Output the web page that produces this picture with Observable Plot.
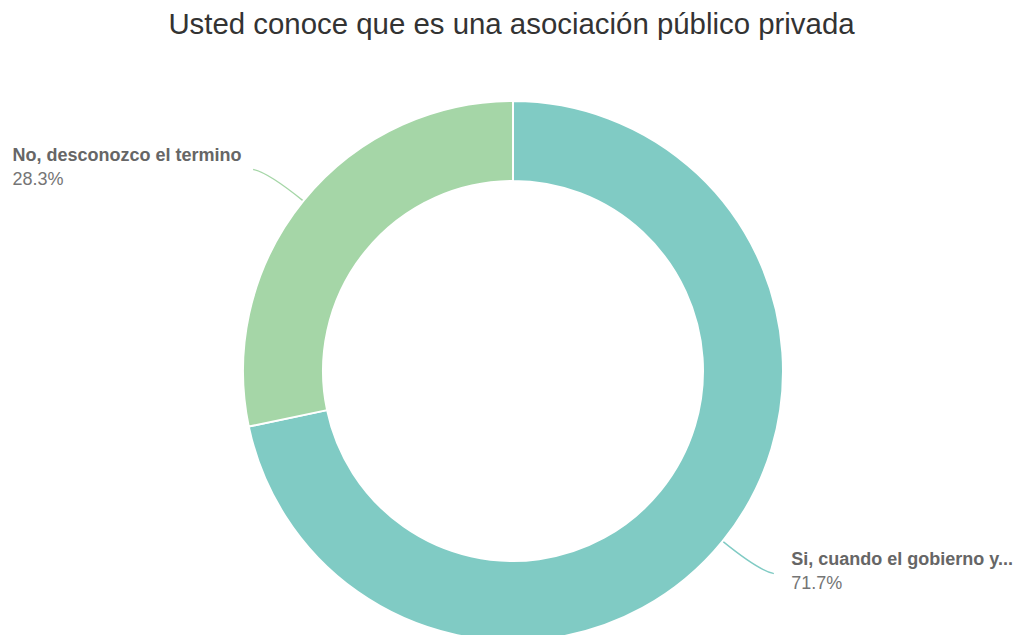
<!DOCTYPE html>
<html><head><meta charset="utf-8">
<script src="https://cdn.jsdelivr.net/npm/d3@7"></script>
<script src="https://cdn.jsdelivr.net/npm/@observablehq/plot@0.6"></script>
<style>
html,body{margin:0;padding:0;background:#fff;overflow:hidden;}
#title{height:48px;padding-top:4px;padding-left:10px;font:29.4px "Liberation Sans",Arial,sans-serif;line-height:40px;color:#333;text-align:center;white-space:nowrap;}
</style></head><body>
<div id="title">Usted conoce que es una asociación público privada</div>
<div id="chart"></div>
<script>
// data
const categories = ["Si, cuando el gobierno y...", "No, desconozco el termino"];
const values = [71.7, 28.3];
const percentLabels = ["71.7%", "28.3%"];
const colors = ["#80CBC4", "#A5D6A7"];

// layout
const W = 1013, H = 583;
const CX = 513, CY = 319, R_OUT = 270, R_IN = 190;
const FONT = '"Liberation Sans", Arial, sans-serif';

const data = categories.map((c, i) => ({category: c, value: values[i], pct: percentLabels[i], color: colors[i]}));
const arcs = d3.pie().sort(null).value(d => d.value).startAngle(0).endAngle(2 * Math.PI)(data);

const polar = (r, a) => [CX + r * Math.sin(a), CY - r * Math.cos(a)];
const leaders = [];
const labels = [];
arcs.forEach(a => {
  const mid = (a.startAngle + a.endAngle) / 2;
  const shift = 1.2 * Math.PI / 180;
  const pts = [polar(R_OUT, mid), polar(R_OUT + 45, mid), polar(R_OUT + 59, mid - shift)];
  pts.forEach(p => leaders.push({category: a.data.category, x: p[0], y: p[1], color: a.data.color}));
  const end = pts[2];
  const right = Math.sin(mid) > 0;
  labels.push({
    name: a.data.category, pct: a.data.pct,
    x: right ? end[0] + 18 : 12,
    y: end[1] - 8
  });
});

// quadratic leader: first point, control point, end point
function quadCurve(context) {
  let pts = [];
  return {
    areaStart() {}, areaEnd() {},
    lineStart() { pts = []; },
    point(x, y) { pts.push([+x, +y]); },
    lineEnd() {
      if (pts.length === 3) {
        context.moveTo(pts[0][0], pts[0][1]);
        context.quadraticCurveTo(pts[1][0], pts[1][1], pts[2][0], pts[2][1]);
      } else if (pts.length) {
        context.moveTo(pts[0][0], pts[0][1]);
        pts.slice(1).forEach(p => context.lineTo(p[0], p[1]));
      }
    }
  };
}

function donut(index, scales) {
  const cx = scales.x(CX), cy = scales.y(CY);
  const ro = Math.abs(scales.x(CX + R_OUT) - cx), ri = Math.abs(scales.x(CX + R_IN) - cx);
  const arc = d3.arc().innerRadius(ri).outerRadius(ro);
  const g = d3.create("svg:g").attr("transform", `translate(${cx},${cy})`);
  g.selectAll("path").data(arcs).join("path")
    .attr("d", arc)
    .attr("fill", d => d.data.color)
    .attr("stroke", "#fff")
    .attr("stroke-width", 2)
    .attr("stroke-linejoin", "round");
  return g.node();
}

const chart = Plot.plot({
  width: W, height: H,
  margin: 0,
  x: {domain: [0, W], range: [0, W], axis: null},
  y: {domain: [0, H], range: [0, H], axis: null},
  color: {type: "identity"},
  style: {overflow: "visible", fontFamily: FONT, background: "#fff"},
  marks: [
    Plot.line(leaders, {x: "x", y: "y", z: "category", stroke: "color", strokeWidth: 1.4, curve: quadCurve}),
    donut,
    Plot.text(labels, {x: "x", y: d => d.y - 6, text: "name", textAnchor: "start", fontSize: 18, fontWeight: "bold", fill: "#666", fontFamily: FONT}),
    Plot.text(labels, {x: "x", y: d => d.y + 24 - 6, text: "pct", textAnchor: "start", fontSize: 18, fill: "#757575", fontFamily: FONT})
  ]
});
document.getElementById("chart").appendChild(chart);
</script>
</body></html>
